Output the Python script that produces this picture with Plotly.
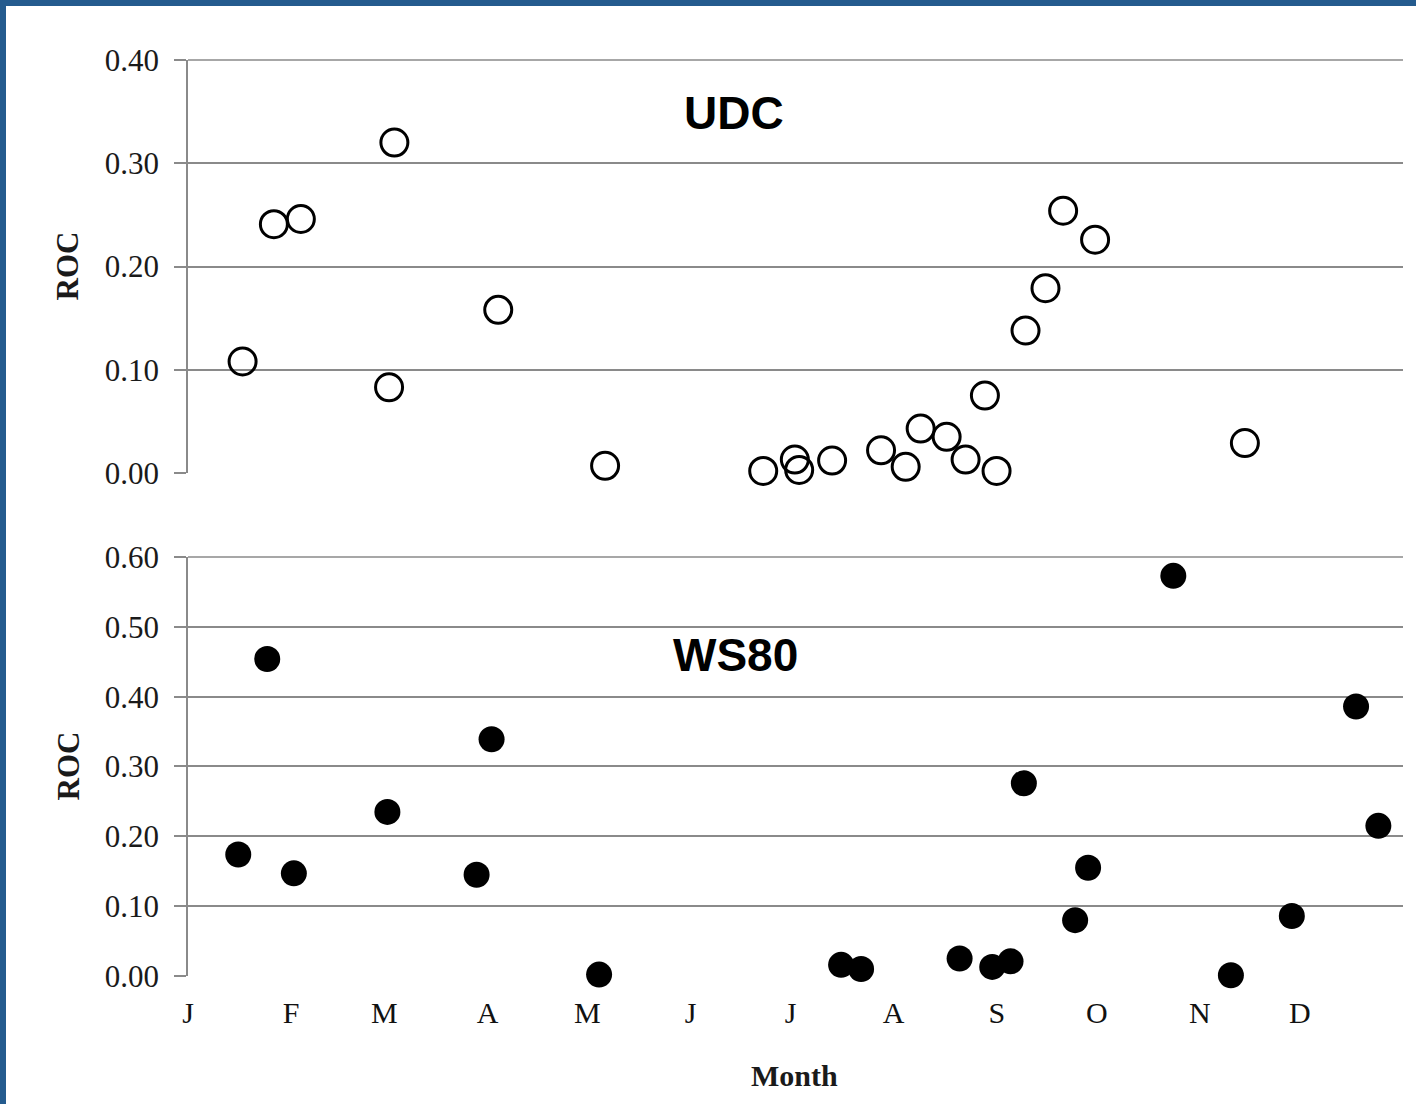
import plotly.graph_objects as go
from plotly.subplots import make_subplots

# Day of year (0 = 1 January)
udc_day = [16.4, 25.8, 33.9, 60.4, 62.0, 93.2, 125.3, 172.8, 182.3, 183.6, 193.5,
           208.2, 215.6, 220.1, 227.9, 233.6, 239.4, 242.9, 251.6, 257.6, 262.9,
           272.5, 317.5]
udc_roc = [0.108, 0.241, 0.246, 0.083, 0.320, 0.158, 0.007, 0.002, 0.013, 0.003, 0.012,
           0.022, 0.006, 0.043, 0.035, 0.013, 0.075, 0.002, 0.138, 0.179, 0.254,
           0.226, 0.029]

ws80_day = [15.1, 23.8, 31.8, 59.9, 86.7, 91.2, 123.5, 196.2, 202.2, 231.8, 241.6,
            247.1, 251.1, 266.5, 270.4, 296.0, 313.3, 331.6, 350.9, 357.6]
ws80_roc = [0.174, 0.454, 0.147, 0.235, 0.145, 0.339, 0.002, 0.016, 0.010, 0.025, 0.013,
            0.021, 0.276, 0.080, 0.155, 0.573, 0.001, 0.086, 0.386, 0.215]

month_start = [0, 31, 59, 90, 120, 151, 181, 212, 243, 273, 304, 334]
month_labels = ["J", "F", "M", "A", "M", "J", "J", "A", "S", "O", "N", "D"]

top_ticks = [0.0, 0.1, 0.2, 0.3, 0.4]
bottom_ticks = [0.0, 0.1, 0.2, 0.3, 0.4, 0.5, 0.6]

GRID = "#8a8a8a"
SERIF = "Liberation Serif"
SANS = "Liberation Sans"
BLUE = "#245b8e"

fig = make_subplots(rows=2, cols=1, vertical_spacing=0.0917,
                    row_heights=[413, 419], shared_xaxes=False)

fig.add_trace(go.Scatter(
    x=udc_day, y=udc_roc, mode="markers", showlegend=False,
    marker=dict(symbol="circle-open", size=27, color="black",
                line=dict(width=3, color="black")),
    cliponaxis=False), row=1, col=1)

fig.add_trace(go.Scatter(
    x=ws80_day, y=ws80_roc, mode="markers", showlegend=False,
    marker=dict(symbol="circle", size=26, color="black",
                line=dict(width=0)),
    cliponaxis=False), row=2, col=1)

xcommon = dict(range=[0, 365], showgrid=False, zeroline=False, showline=False,
               ticks="", tickvals=month_start, ticktext=month_labels)
fig.update_xaxes(**xcommon, showticklabels=False, row=1, col=1)
fig.update_xaxes(**xcommon, showticklabels=True, ticklabelstandoff=16,
                 tickfont=dict(family=SERIF, size=30, color="#111"), row=2, col=1)

ycommon = dict(showgrid=True, gridcolor=GRID, gridwidth=1.5, zeroline=False,
               showline=True, linecolor=GRID, linewidth=1.5,
               ticks="outside", ticklen=12, tickcolor=GRID, tickwidth=1.5,
               tickformat=".2f", ticklabelstandoff=9,
               tickfont=dict(family=SERIF, size=31, color="#1a1a1a"))
fig.update_yaxes(**ycommon, range=[0, 0.4], tickvals=top_ticks, row=1, col=1)
fig.update_yaxes(**ycommon, range=[0, 0.6], tickvals=bottom_ticks, row=2, col=1)

annots = [
    dict(text="<b>UDC</b>", xref="x domain", yref="y domain", x=0.449, y=0.872,
         xanchor="center", yanchor="middle",
         showarrow=False, font=dict(family=SANS, size=46, color="black")),
    dict(text="<b>WS80</b>", xref="x2 domain", yref="y2 domain", x=0.451, y=0.766,
         xanchor="center", yanchor="middle",
         showarrow=False, font=dict(family=SANS, size=46, color="black")),
    dict(text="<b>ROC</b>", xref="paper", yref="y domain", x=0, y=0.5, xshift=-120,
         xanchor="center", yanchor="middle",
         textangle=-90, showarrow=False, font=dict(family=SERIF, size=31, color="#1a1a1a")),
    dict(text="<b>ROC</b>", xref="paper", yref="y2 domain", x=0, y=0.5, xshift=-120,
         xanchor="center", yanchor="middle",
         textangle=-90, showarrow=False, font=dict(family=SERIF, size=31, color="#1a1a1a")),
    dict(text="<b>Month</b>", xref="paper", yref="paper", x=0.499, y=0, yshift=-99,
         xanchor="center", yanchor="middle",
         showarrow=False, font=dict(family=SERIF, size=30, color="#1a1a1a")),
]

shapes = [
    # top gridline of each panel (plotly drops gridlines at the plot edge)
    dict(type="line", xref="x domain", yref="y domain", x0=0, x1=1, y0=1, y1=1,
         line=dict(color=GRID, width=1.5), layer="below"),
    dict(type="line", xref="x2 domain", yref="y2 domain", x0=0, x1=1, y0=1, y1=1,
         line=dict(color=GRID, width=1.5), layer="below"),
    # top blue band
    dict(type="rect", xref="paper", yref="paper", xsizemode="pixel", ysizemode="pixel",
         xanchor=0, yanchor=1, x0=-190, x1=1240, y0=62, y1=54,
         fillcolor=BLUE, line=dict(width=0), layer="above"),
    # left blue band
    dict(type="rect", xref="paper", yref="paper", xsizemode="pixel", ysizemode="pixel",
         xanchor=0, yanchor=1, x0=-190, x1=-182, y0=62, y1=-1050,
         fillcolor=BLUE, line=dict(width=0), layer="above"),
]

fig.update_layout(
    width=1416, height=1104,
    margin=dict(l=188, r=13, t=60, b=128),
    paper_bgcolor="white", plot_bgcolor="white",
    annotations=annots, shapes=shapes,
    showlegend=False,
)

fig.write_html("out.html")
